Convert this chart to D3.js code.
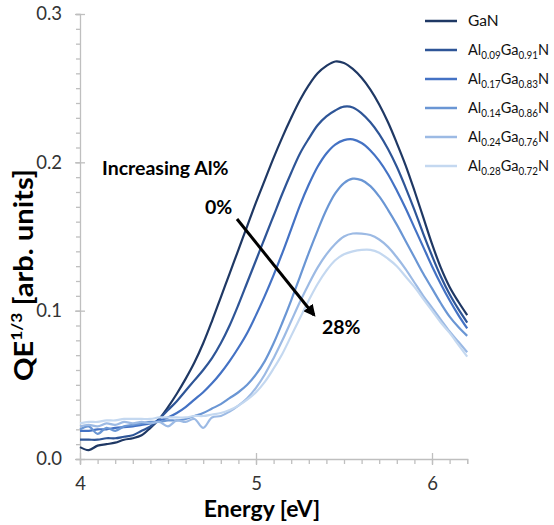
<html>
<head>
  <meta charset="utf-8">
  <title>QE cube root vs energy</title>
  <script src="https://cdn.jsdelivr.net/npm/d3@7"></script>
  <style>
    body { margin: 0; background: #fff; font-family: Lato, 'Open Sans', sans-serif; }
    .axis path, .axis line { stroke: #bfbfbf; stroke-width: 1.3; }
    .axis text { font-size: 18.5px; fill: #333; font-family: Lato, sans-serif; }
  </style>
</head>
<body>
<div id="chart"></div>
<script>
  // energies (eV), shared by all curves
  const energy = [4.00, 4.05, 4.10, 4.15, 4.20, 4.25, 4.30, 4.35, 4.40, 4.45,
    4.50, 4.55, 4.60, 4.65, 4.70, 4.75, 4.80, 4.85, 4.90, 4.95,
    5.00, 5.05, 5.10, 5.15, 5.20, 5.25, 5.30, 5.35, 5.40, 5.45,
    5.50, 5.55, 5.60, 5.65, 5.70, 5.75, 5.80, 5.85, 5.90, 5.95,
    6.00, 6.05, 6.10, 6.15, 6.20]

  const gan = [0.008, 0.006, 0.009, 0.010, 0.011, 0.013, 0.014, 0.016, 0.021, 0.027,
    0.035, 0.044, 0.054, 0.065, 0.078, 0.093, 0.109, 0.125, 0.141, 0.157,
    0.173, 0.188, 0.203, 0.217, 0.230, 0.242, 0.252, 0.260, 0.265, 0.268,
    0.267, 0.263, 0.257, 0.249, 0.239, 0.227, 0.213, 0.198, 0.181, 0.163,
    0.145, 0.129, 0.116, 0.106, 0.097]
  const al09 = [0.013, 0.013, 0.013, 0.014, 0.014, 0.015, 0.016, 0.019, 0.022, 0.027,
    0.033, 0.039, 0.046, 0.053, 0.060, 0.068, 0.078, 0.090, 0.104, 0.119,
    0.134, 0.149, 0.164, 0.179, 0.193, 0.206, 0.216, 0.225, 0.231, 0.235,
    0.2375, 0.237, 0.233, 0.227, 0.219, 0.209, 0.197, 0.183, 0.168, 0.152,
    0.137, 0.123, 0.111, 0.101, 0.092]
  const al17 = [0.019, 0.019, 0.020, 0.020, 0.021, 0.0215, 0.022, 0.023, 0.024, 0.026,
    0.028, 0.031, 0.035, 0.040, 0.045, 0.051, 0.058, 0.066, 0.075, 0.085,
    0.097, 0.110, 0.124, 0.139, 0.155, 0.171, 0.185, 0.197, 0.206, 0.212,
    0.215, 0.2155, 0.213, 0.208, 0.201, 0.192, 0.181, 0.169, 0.156, 0.143,
    0.130, 0.118, 0.107, 0.097, 0.088]
  const al14 = [0.020, 0.022, 0.017, 0.021, 0.019, 0.022, 0.023, 0.024, 0.025, 0.025,
    0.026, 0.026, 0.027, 0.029, 0.031, 0.034, 0.037, 0.041, 0.045, 0.050,
    0.057, 0.066, 0.078, 0.092, 0.107, 0.123, 0.139, 0.154, 0.168, 0.179,
    0.186, 0.189, 0.188, 0.184, 0.177, 0.168, 0.158, 0.147, 0.136, 0.125,
    0.115, 0.105, 0.096, 0.089, 0.083]
  const al24 = [0.022, 0.023, 0.022, 0.024, 0.023, 0.025, 0.024, 0.025, 0.024, 0.025,
    0.022, 0.026, 0.025, 0.027, 0.021, 0.028, 0.029, 0.032, 0.036, 0.041,
    0.048, 0.057, 0.068, 0.080, 0.093, 0.106, 0.118, 0.129, 0.138, 0.145,
    0.150, 0.152, 0.152, 0.151, 0.148, 0.143, 0.136, 0.128, 0.119, 0.110,
    0.102, 0.094, 0.086, 0.079, 0.072]
  const al28 = [0.024, 0.025, 0.025, 0.026, 0.026, 0.027, 0.027, 0.027, 0.027, 0.028,
    0.028, 0.028, 0.028, 0.029, 0.029, 0.030, 0.031, 0.033, 0.036, 0.040,
    0.045, 0.052, 0.061, 0.071, 0.083, 0.095, 0.107, 0.118, 0.127, 0.134,
    0.138, 0.140, 0.141, 0.141, 0.139, 0.135, 0.130, 0.123, 0.116, 0.108,
    0.100, 0.092, 0.085, 0.077, 0.069]

  // legend: [Al part, Ga part] (null = plain GaN)
  const names = [null, ["0.09", "0.91"], ["0.17", "0.83"], ["0.14", "0.86"], ["0.24", "0.76"], ["0.28", "0.72"]]
  const colors = ["#1f3864", "#2e5597", "#4472c4", "#6a96d4", "#9cbae4", "#c4d8f0"]
  const xTicks = [4, 5, 6]
  const yTicks = [0.0, 0.1, 0.2, 0.3]
  const series = [gan, al09, al17, al14, al24, al28]

  const W = 554, H = 525
  const svg = d3.select("#chart").append("svg")
    .attr("width", W).attr("height", H)

  const x = d3.scaleLinear().domain([4, 6.2]).range([80, 467.2])
  const y = d3.scaleLinear().domain([0, 0.3]).range([459, 14])

  //軸 minor ticks
  svg.append("g").attr("class", "axis")
    .attr("transform", `translate(0,${y(0)})`)
    .call(d3.axisBottom(x).tickValues(d3.range(40, 63).map(v => v / 10)).tickSize(5).tickFormat(""))
  svg.append("g").attr("class", "axis")
    .attr("transform", `translate(${x(4)},0)`)
    .call(d3.axisLeft(y).tickValues(d3.range(0, 31).map(v => v / 100)).tickSize(4).tickFormat(""))

  //軸 major ticks + labels
  const xa = svg.append("g").attr("class", "axis")
    .attr("transform", `translate(0,${y(0)})`)
    .call(d3.axisBottom(x).tickValues(xTicks).tickSize(6).tickPadding(12).tickFormat(d3.format("d")))
  xa.select(".domain").remove()
  xa.selectAll(".tick line").attr("y1", -6)
  const ya = svg.append("g").attr("class", "axis")
    .attr("transform", `translate(${x(4)},0)`)
    .call(d3.axisLeft(y).tickValues(yTicks).tickSize(5).tickPadding(13).tickFormat(d3.format(".1f")))
  ya.select(".domain").remove()
  ya.selectAll(".tick line").attr("x1", 5).attr("x2", -5)

  //curves
  const line = d3.line().x((d, i) => x(energy[i])).y(d => y(d)).curve(d3.curveCatmullRom)
  svg.append("g").selectAll("path").data(series).join("path")
    .attr("d", d => line(d))
    .attr("fill", "none")
    .attr("stroke", (d, i) => colors[i])
    .attr("stroke-width", 2.2)

  //legend
  const leg = svg.append("g").selectAll("g").data(names).join("g")
    .attr("transform", (d, i) => `translate(425,${21 + i * 29})`)
  leg.append("line").attr("x1", 0).attr("x2", 32)
    .attr("stroke", (d, i) => colors[i]).attr("stroke-width", 2.5)
  const lt = leg.append("text").attr("x", 43).attr("y", 5)
    .attr("font-size", 15.5).attr("fill", "#111")
  lt.each(function (d) {
    const t = d3.select(this)
    if (!d) { t.text("GaN"); return }
    t.attr("textLength", 81).attr("lengthAdjust", "spacingAndGlyphs")
    t.append("tspan").text("Al")
    t.append("tspan").text(d[0]).attr("font-size", 10.5).attr("dy", 4)
    t.append("tspan").text("Ga").attr("dy", -4)
    t.append("tspan").text(d[1]).attr("font-size", 10.5).attr("dy", 4)
    t.append("tspan").text("N").attr("dy", -4)
  })

  //axis titles
  svg.append("text").attr("x", 262).attr("y", 517)
    .attr("text-anchor", "middle").attr("font-size", 23).attr("font-weight", "bold")
    .text("Energy [eV]")
  const yt = svg.append("text")
    .attr("transform", "translate(33,275) rotate(-90)")
    .attr("text-anchor", "middle").attr("font-size", 27).attr("font-weight", "bold")
    .attr("textLength", 212).attr("lengthAdjust", "spacingAndGlyphs")
  yt.append("tspan").text("QE")
  yt.append("tspan").text("1/3").attr("font-size", 16).attr("dy", -11)
  yt.append("tspan").text(" [arb. units]").attr("dy", 11)

  //annotation
  svg.append("text").attr("x", 102).attr("y", 175)
    .attr("font-size", 19.5).attr("font-weight", "bold").text("Increasing Al%")
  svg.append("text").attr("x", 205).attr("y", 214)
    .attr("font-size", 19.5).attr("font-weight", "bold").text("0%")
  svg.append("text").attr("x", 322).attr("y", 334)
    .attr("font-size", 19.5).attr("font-weight", "bold").text("28%")
  svg.append("defs").append("marker").attr("id", "ah")
    .attr("viewBox", "0 0 10 10").attr("refX", 8).attr("refY", 5)
    .attr("markerWidth", 4).attr("markerHeight", 4).attr("orient", "auto")
    .append("path").attr("d", "M0,0 L10,5 L0,10 z").attr("fill", "#000")
  svg.append("line").attr("x1", 237).attr("y1", 219).attr("x2", 314).attr("y2", 315)
    .attr("stroke", "#000").attr("stroke-width", 3).attr("marker-end", "url(#ah)")
</script>
</body>
</html>
